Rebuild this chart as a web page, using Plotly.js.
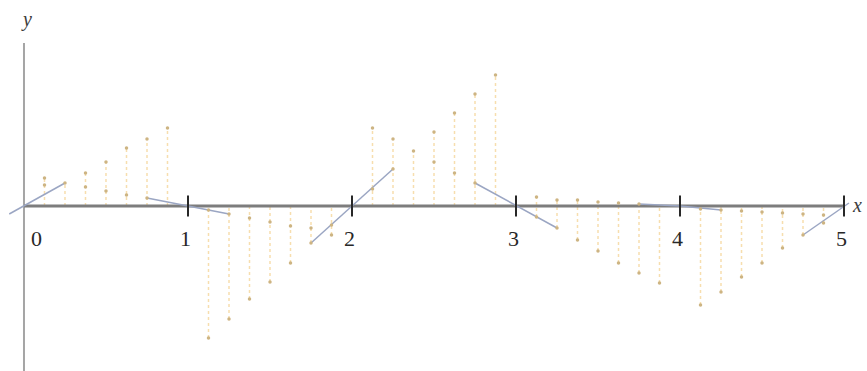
<!DOCTYPE html>
<html>
<head>
<meta charset="utf-8">
<script src="https://cdn.plot.ly/plotly-3.0.1.min.js"></script>
<style>
  html, body { margin: 0; padding: 0; background: #fff; }
  #chart { width: 867px; height: 371px; }
</style>
</head>
<body>
<div id="chart"></div>
<script>
// Sample positions (eighths of a unit, skipping the integers)
const stemX = [
  0.125, 0.25, 0.375, 0.5, 0.625, 0.75, 0.875,
  1.125, 1.25, 1.375, 1.5, 1.625, 1.75, 1.875,
  2.125, 2.25, 2.375, 2.5, 2.625, 2.75, 2.875,
  3.125, 3.25, 3.375, 3.5, 3.625, 3.75, 3.875,
  4.125, 4.25, 4.375, 4.5, 4.625, 4.75, 4.875
];
// Far end of each stem
const stemEnd = [
  0.28, 0.23, 0.33, 0.44, 0.58, 0.67, 0.78,
  -1.32, -1.13, -0.93, -0.76, -0.57, -0.37, -0.29,
  0.78, 0.67, 0.55, 0.74, 0.93, 1.12, 1.31,
  -0.11, -0.22, -0.34, -0.45, -0.57, -0.67, -0.77,
  -0.99, -0.86, -0.71, -0.57, -0.42, -0.29, -0.17
];
// Second point marked on each stem (null where there is none)
const stemMid = [
  0.21, null, 0.19, 0.15, 0.11, 0.08, null,
  -0.04, -0.08, -0.12, -0.16, -0.20, -0.22, -0.19,
  0.17, 0.37, null, 0.44, 0.33, 0.23, null,
  0.09, 0.06, 0.06, 0.04, 0.03, 0.02, null,
  -0.03, -0.04, -0.05, -0.06, -0.07, -0.08, -0.09
];
// Linear pieces around each integer
const segX = [-0.09, 0.25, null, 0.75, 1.25, null, 1.75, 2.25, null,
              2.75, 3.25, null, 3.75, 4, 4.25, null, 4.75, 5.03];
const segY = [-0.08, 0.23, null, 0.08, -0.08, null, -0.37, 0.37, null,
              0.23, -0.22, null, 0.02, 0, -0.04, null, -0.29, 0.03];
// Integer ticks on the x axis
const tickVals = [1, 2, 3, 4, 5];
const tickLabels = ["0", "1", "2", "3", "4", "5"];
const labelVals = [0, 1, 2, 3, 4, 5];

// Build stem segments from zero through both marked values
const sx = [], sy = [], mx = [], my = [];
stemX.forEach((x, i) => {
  const vals = [0, stemEnd[i]];
  if (stemMid[i] !== null) vals.push(stemMid[i]);
  sx.push(x, x, null);
  sy.push(Math.min(...vals), Math.max(...vals), null);
  mx.push(x); my.push(stemEnd[i]);
  if (stemMid[i] !== null) { mx.push(x); my.push(stemMid[i]); }
});

const serif = "Liberation Serif";

const traces = [
  { // y axis
    x: [0, 0], y: [-1.7, 1.63], mode: "lines",
    line: { color: "rgb(165,165,165)", width: 2 }, hoverinfo: "skip"
  },
  { // stems
    x: sx, y: sy, mode: "lines",
    line: { color: "rgba(242,200,120,0.6)", width: 1.5, dash: "dot" },
    hoverinfo: "skip"
  },
  { // x axis
    x: [0, 5], y: [0, 0], mode: "lines",
    line: { color: "rgb(125,125,125)", width: 3 }, hoverinfo: "skip"
  },
  { // linear pieces
    x: segX, y: segY, mode: "lines",
    line: { color: "rgb(155,166,195)", width: 1.5 }, hoverinfo: "skip"
  },
  { // stem points
    x: mx, y: my, mode: "markers",
    marker: { color: "rgb(205,180,130)", size: 3.5, symbol: "circle" },
    hoverinfo: "skip"
  },
  { // tick marks
    x: tickVals, y: tickVals.map(() => 0), mode: "markers",
    marker: { symbol: "line-ns", size: 15, line: { color: "rgb(40,40,40)", width: 2 } },
    hoverinfo: "skip"
  }
];

const annotations = labelVals.map((v, i) => ({
  x: v, y: 0, xref: "x", yref: "y", text: tickLabels[i], showarrow: false,
  xshift: i === 0 ? 13 : -3, yshift: -32,
  font: { family: serif, size: 22, color: "rgb(40,40,40)" }
}));
annotations.push(
  { x: 0, y: 1.63, xref: "x", yref: "y", text: "<i>y</i>", showarrow: false,
    xshift: 3, yshift: 24, font: { family: serif, size: 20, color: "rgb(60,60,60)" } },
  { x: 5, y: 0, xref: "x", yref: "y", text: "<i>x</i>", showarrow: false,
    xshift: 13, yshift: 1, font: { family: serif, size: 20, color: "rgb(60,60,60)" } }
);

const layout = {
  width: 867, height: 371,
  margin: { l: 0, r: 0, t: 0, b: 0 },
  paper_bgcolor: "#fff", plot_bgcolor: "#fff",
  showlegend: false,
  xaxis: { range: [-0.1463, 5.1402], visible: false, fixedrange: true },
  yaxis: { range: [-1.65, 2.06], visible: false, fixedrange: true },
  annotations: annotations
};

Plotly.newPlot("chart", traces, layout, { staticPlot: true });
</script>
</body>
</html>
